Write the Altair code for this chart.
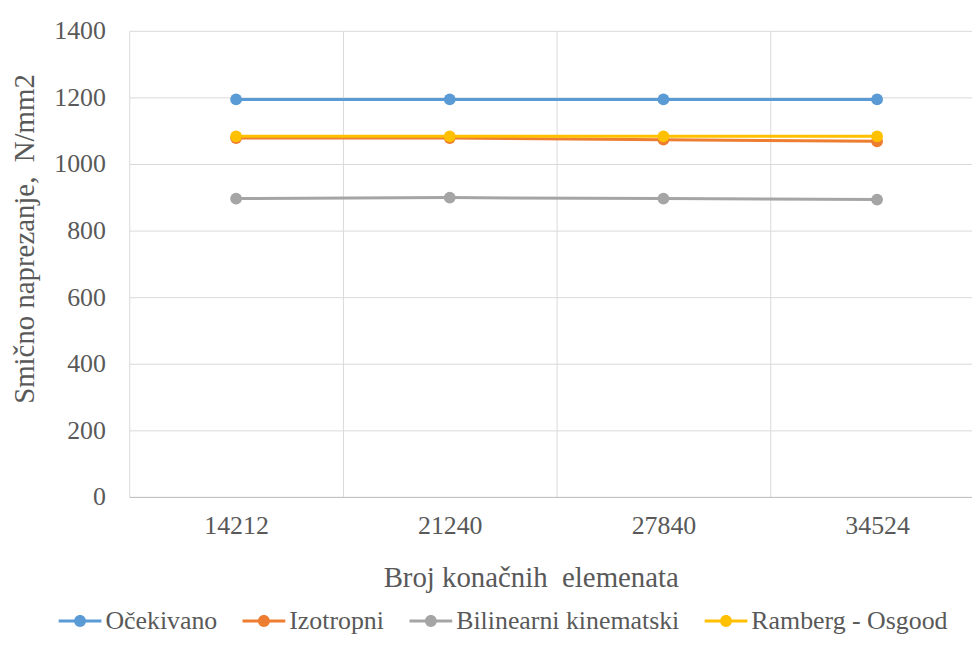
import altair as alt
import pandas as pd

categories = ["14212", "21240", "27840", "34524"]
series_names = ["Očekivano", "Izotropni", "Bilinearni kinematski", "Ramberg - Osgood"]
ocekivano = [1194, 1194, 1194, 1194]
izotropni = [1078, 1078, 1073, 1068]
bilinearni = [896, 899, 896, 893]
ramberg = [1083, 1083, 1083, 1083]
colors = ["#5B9BD5", "#ED7D31", "#A5A5A5", "#FFC000"]

rows = []
for name, vals in zip(series_names, [ocekivano, izotropni, bilinearni, ramberg]):
    for c, v in zip(categories, vals):
        rows.append({"kat": c, "vrijednost": v, "serija": name})
df = pd.DataFrame(rows)

FONT = "Liberation Serif, Times New Roman, DejaVu Serif, serif"
TXT = "#595959"

# legend glyph: thin bar + circle, drawn as one filled shape
SYMBOL = ("M -1 -0.07 L 1 -0.07 L 1 0.07 L -1 0.07 Z "
          "M -0.28 0 A 0.28 0.28 0 1 1 0.28 0 A 0.28 0.28 0 1 1 -0.28 0 Z")

chart = alt.Chart(df).mark_line(
    strokeWidth=3,
    point=alt.OverlayMarkDef(filled=True, size=140, opacity=1),
).encode(
    x=alt.X("kat:N", sort=categories,
            scale=alt.Scale(range=[0, 860]),
            axis=alt.Axis(title="Broj konačnih\u00a0 elemenata", labelAngle=0,
                          tickBand="extent", ticks=False, grid=True,
                          gridColor="#D9D9D9", domainColor="#BFBFBF",
                          labelFont=FONT, labelFontSize=26, labelColor=TXT,
                          labelPadding=16, titleFont=FONT, titleFontSize=29,
                          titleColor=TXT, titleFontWeight="normal",
                          titlePadding=25, titleX=404)),
    y=alt.Y("vrijednost:Q",
            scale=alt.Scale(domain=[0, 1400], nice=False),
            axis=alt.Axis(title="Smično naprezanje,\u00a0 N/mm2", values=[0, 200, 400, 600, 800, 1000, 1200, 1400],
                          format="d",
                          ticks=False, domain=False, gridColor="#D9D9D9",
                          labelFont=FONT, labelFontSize=26, labelColor=TXT,
                          labelPadding=24, titleFont=FONT, titleFontSize=29,
                          titleColor=TXT, titleFontWeight="normal",
                          titlePadding=14, titleY=209)),
    color=alt.Color("serija:N", sort=series_names,
                    scale=alt.Scale(domain=series_names, range=colors),
                    legend=alt.Legend(title=None, orient="none", direction="horizontal",
                                      legendX=-71, legendY=572,
                                      symbolType=SYMBOL,
                                      symbolSize=1849, symbolStrokeWidth=0,
                                      labelFont=FONT, labelFontSize=26, labelColor=TXT,
                                      labelLimit=0, columnPadding=25, labelOffset=4)),
    order=alt.Order("kat:N"),
).properties(
    width=848, height=469,
    padding={"left": 122, "top": 21, "right": 0, "bottom": 140},
    autosize=alt.AutoSizeParams(type="none"),
).configure_view(stroke=None)

chart.save("out.html", embed_options={"renderer": "svg", "actions": False})
